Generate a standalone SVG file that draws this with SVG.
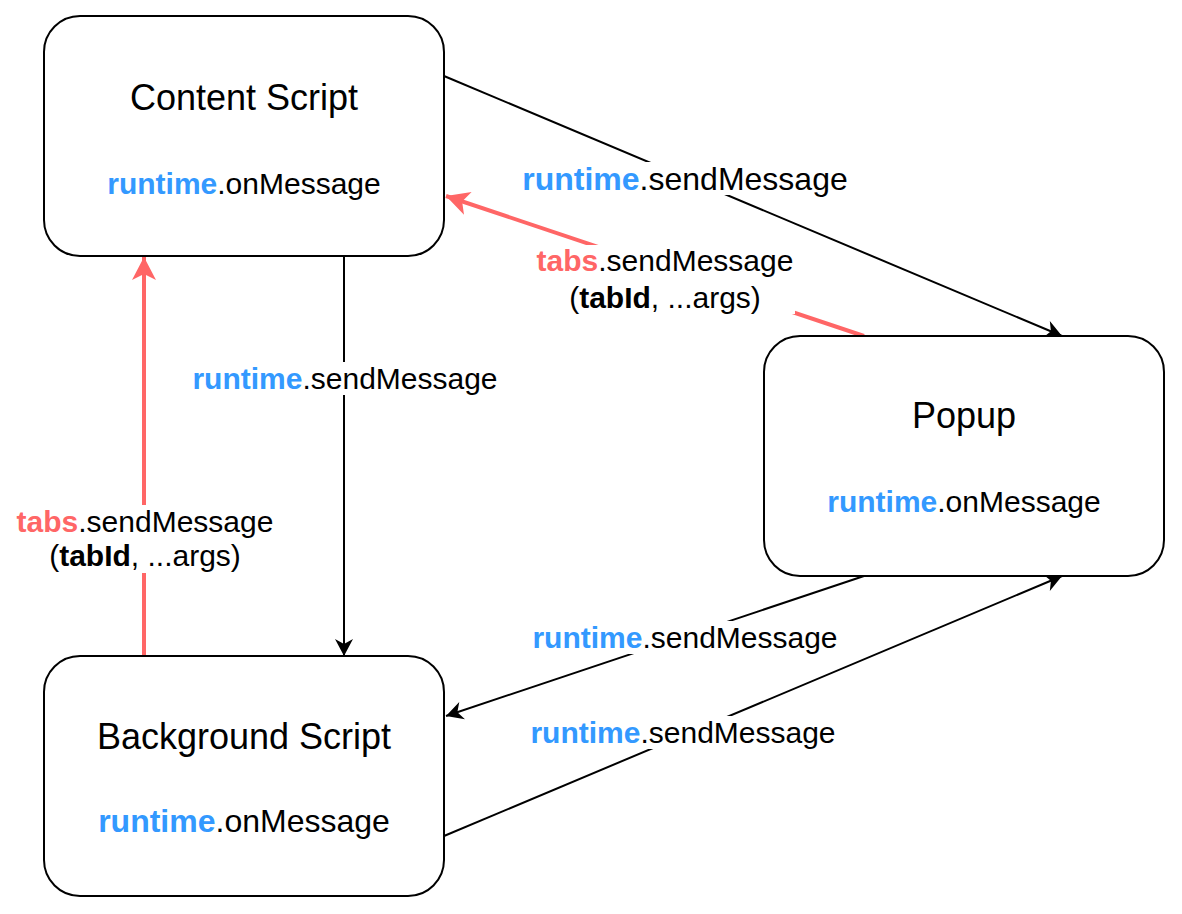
<svg xmlns="http://www.w3.org/2000/svg" width="1182" height="914" viewBox="0 0 1182 914">
<style>
.box{fill:#fff;stroke:#000;stroke-width:2}
.t{font-family:"Liberation Sans",Arial,Helvetica,sans-serif;fill:#000;text-anchor:middle}
.b{font-weight:bold}
.blue{fill:#3399FF}
.red{fill:#FF6666}
.ln{fill:none;stroke:#000;stroke-width:2}
.lr{fill:none;stroke:#FF6666;stroke-width:4}
.bg{fill:#fff}
</style>
<defs>
<marker id="ab" markerUnits="userSpaceOnUse" viewBox="-18 -10 20 20" refX="0" refY="0" markerWidth="20" markerHeight="20" orient="auto">
<path d="M0,0 L-17,-9 L-12,0 L-17,9 Z" fill="#000"/>
</marker>
<marker id="ar" markerUnits="userSpaceOnUse" viewBox="-24 -13 26 26" refX="0" refY="0" markerWidth="26" markerHeight="26" orient="auto">
<path d="M0,0 L-23,-12 L-17,0 L-23,12 Z" fill="#FF6666"/>
</marker>
</defs>
<rect width="1182" height="914" fill="#fff"/>
<g id="connectors">
<line class="ln" x1="444" y1="76" x2="1062" y2="336" marker-end="url(#ab)"/>
<line class="lr" x1="864" y1="336" x2="446" y2="196" marker-end="url(#ar)"/>
<line class="ln" x1="344" y1="256" x2="344" y2="656" marker-end="url(#ab)"/>
<line class="lr" x1="144" y1="656" x2="144" y2="257" marker-end="url(#ar)"/>
<line class="ln" x1="864" y1="576" x2="446" y2="716" marker-end="url(#ab)"/>
<line class="ln" x1="444" y1="836" x2="1062" y2="576" marker-end="url(#ab)"/>
<rect class="bg" x="521" y="162" width="328" height="33"/>
<rect class="bg" x="535" y="245" width="260" height="69"/>
<rect class="bg" x="191" y="362" width="308" height="33"/>
<rect class="bg" x="15" y="505" width="259" height="68"/>
<rect class="bg" x="531" y="621" width="308" height="33"/>
<rect class="bg" x="529" y="716" width="308" height="33"/>
<text class="t" x="685" y="189.5" font-size="32"><tspan class="b blue">runtime</tspan>.sendMessage</text>
<text class="t" x="665" y="271" font-size="30"><tspan class="b red">tabs</tspan>.sendMessage</text>
<text class="t" x="665" y="308" font-size="30">(<tspan class="b">tabId</tspan>, ...args)</text>
<text class="t" x="345" y="389" font-size="30"><tspan class="b blue">runtime</tspan>.sendMessage</text>
<text class="t" x="145" y="532" font-size="30"><tspan class="b red">tabs</tspan>.sendMessage</text>
<text class="t" x="145" y="566" font-size="30">(<tspan class="b">tabId</tspan>, ...args)</text>
<text class="t" x="685" y="648" font-size="30"><tspan class="b blue">runtime</tspan>.sendMessage</text>
<text class="t" x="683" y="743" font-size="30"><tspan class="b blue">runtime</tspan>.sendMessage</text>
</g>
<g id="content-script">
<rect class="box" x="44" y="16" width="400" height="240" rx="36"/>
<text class="t" x="244" y="110" font-size="36">Content Script</text>
<text class="t" x="244" y="194" font-size="30"><tspan class="b blue">runtime</tspan>.onMessage</text>
</g>
<g id="popup">
<rect class="box" x="764" y="336" width="400" height="240" rx="36"/>
<text class="t" x="964" y="428" font-size="36">Popup</text>
<text class="t" x="964" y="512" font-size="30"><tspan class="b blue">runtime</tspan>.onMessage</text>
</g>
<g id="background-script">
<rect class="box" x="44" y="656" width="400" height="240" rx="36"/>
<text class="t" x="244" y="749" font-size="36">Background Script</text>
<text class="t" x="244" y="832" font-size="32"><tspan class="b blue">runtime</tspan>.onMessage</text>
</g>
</svg>
